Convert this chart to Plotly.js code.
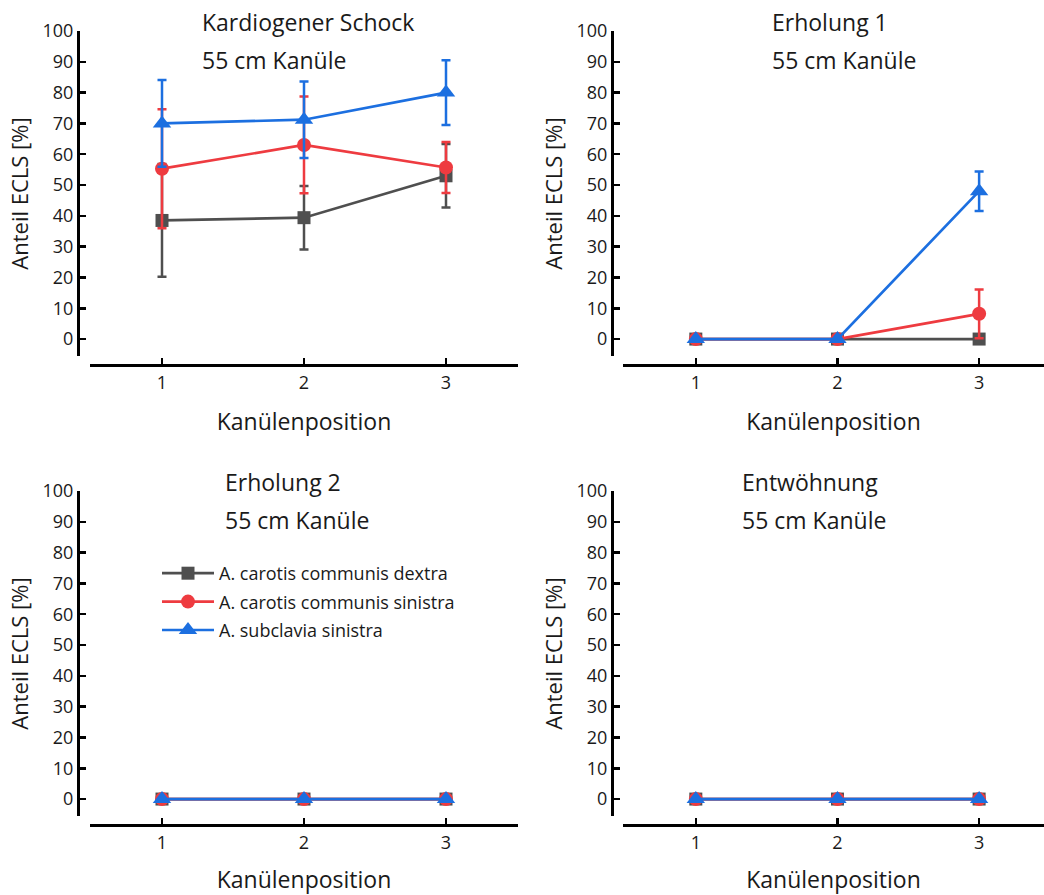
<!DOCTYPE html>
<html>
<head>
<meta charset="utf-8">
<script src="https://cdn.plot.ly/plotly-3.0.1.min.js"></script>
<style>html,body{margin:0;padding:0;background:#fff}#chart{width:1044px;height:895px}</style>
</head>
<body>
<div id="chart"></div>
<script>
const positions = [1, 2, 3];
const tickLabels = ['1', '2', '3'];
const seriesNames = ['A. carotis communis dextra', 'A. carotis communis sinistra', 'A. subclavia sinistra'];
const panelTitles = ['Kardiogener Schock', 'Erholung 1', 'Erholung 2', 'Entwöhnung'];
const subTitle = '55 cm Kanüle';

// Kardiogener Schock
const schockDextra = [38.5, 39.4, 53.0];
const schockDextraErr = [18.3, 10.3, 10.3];
const schockSinistra = [55.3, 63.0, 55.7];
const schockSinistraErr = [19.3, 15.7, 8.3];
const schockSubclavia = [70.0, 71.2, 80.0];
const schockSubclaviaErr = [14.1, 12.4, 10.5];
// Erholung 1
const erh1Dextra = [0, 0, 0];
const erh1DextraErr = [0, 0, 0];
const erh1Sinistra = [0, 0, 8.2];
const erh1SinistraErr = [0, 0, 7.9];
const erh1Subclavia = [0, 0, 48.0];
const erh1SubclaviaErr = [0, 0, 6.4];
// Erholung 2
const erh2Dextra = [0, 0, 0];
const erh2DextraErr = [0, 0, 0];
const erh2Sinistra = [0, 0, 0];
const erh2SinistraErr = [0, 0, 0];
const erh2Subclavia = [0, 0, 0];
const erh2SubclaviaErr = [0, 0, 0];
// Entwöhnung
const entwDextra = [0, 0, 0];
const entwDextraErr = [0, 0, 0];
const entwSinistra = [0, 0, 0];
const entwSinistraErr = [0, 0, 0];
const entwSubclavia = [0, 0, 0];
const entwSubclaviaErr = [0, 0, 0];

const panels = [
  [[schockDextra, schockDextraErr], [schockSinistra, schockSinistraErr], [schockSubclavia, schockSubclaviaErr]],
  [[erh1Dextra, erh1DextraErr], [erh1Sinistra, erh1SinistraErr], [erh1Subclavia, erh1SubclaviaErr]],
  [[erh2Dextra, erh2DextraErr], [erh2Sinistra, erh2SinistraErr], [erh2Subclavia, erh2SubclaviaErr]],
  [[entwDextra, entwDextraErr], [entwSinistra, entwSinistraErr], [entwSubclavia, entwSubclaviaErr]]
];

const colors = ['#4f4f4f', '#ee3b40', '#1c6fe0'];
const symbols = ['square', 'circle', 'triangle-up'];
const sizes = [13, 14, 16];
const FONT = '"Open Sans", "Noto Sans", sans-serif';

const W = 1044, H = 895;
const px = v => v / W;
const py = v => 1 - v / H;

// panel geometry in pixels
const geo = [
  {yAxisX: 78, xDom: [90, 518], xRange: [0.493, 3.507], yDom: [31, 356], xAxisY: 365, titleX: 200},
  {yAxisX: 612, xDom: [623, 1044], xRange: [0.486, 3.458], yDom: [31, 356], xAxisY: 365, titleX: 770},
  {yAxisX: 78, xDom: [90, 518], xRange: [0.493, 3.507], yDom: [491, 816], xAxisY: 825, titleX: 223},
  {yAxisX: 612, xDom: [623, 1044], xRange: [0.486, 3.458], yDom: [491, 816], xAxisY: 825, titleX: 740}
];

const traces = [];
const layout = {
  width: W, height: H,
  margin: {l: 0, r: 0, t: 0, b: 0},
  paper_bgcolor: '#ffffff', plot_bgcolor: 'rgba(0,0,0,0)',
  font: {family: FONT, color: '#1a1a1a'},
  showlegend: true,
  legend: {
    x: px(157), y: py(555), xanchor: 'left', yanchor: 'top',
    font: {size: 18, family: FONT, color: '#1a1a1a'},
    bgcolor: 'rgba(0,0,0,0)', tracegroupgap: 2, itemwidth: 52
  },
  annotations: []
};

panels.forEach((panel, i) => {
  const n = i === 0 ? '' : String(i + 1);
  const g = geo[i];
  panel.forEach((s, k) => {
    traces.push({
      type: 'scatter', mode: 'lines+markers',
      x: positions, y: s[0],
      name: seriesNames[k],
      legendgroup: seriesNames[k],
      showlegend: i === 0,
      xaxis: 'x' + n, yaxis: 'y' + n,
      line: {color: colors[k], width: 2.7},
      marker: {color: colors[k], symbol: symbols[k], size: sizes[k]},
      error_y: {type: 'data', array: s[1], visible: true, color: colors[k], thickness: 2.5, width: 4.5},
      cliponaxis: false
    });
  });
  layout['xaxis' + n] = {
    domain: [px(g.xDom[0]), px(g.xDom[1])],
    range: g.xRange,
    anchor: 'free', position: py(g.xAxisY),
    showgrid: false, zeroline: false,
    showline: true, linecolor: '#000', linewidth: 3,
    ticks: 'inside', ticklen: 6, tickwidth: 2.5, tickcolor: '#000',
    tickmode: 'array', tickvals: positions, ticktext: tickLabels,
    tickfont: {size: 18, family: FONT, color: '#1a1a1a'},
    title: {text: 'Kanülenposition', font: {size: 23, family: FONT, color: '#1a1a1a'}, standoff: 21}
  };
  layout['yaxis' + n] = {
    domain: [py(g.yDom[1]), py(g.yDom[0])],
    range: [-5.5, 100],
    anchor: 'free', position: px(g.yAxisX),
    showgrid: false, zeroline: false,
    showline: true, linecolor: '#000', linewidth: 3,
    ticks: 'inside', ticklen: 6, tickwidth: 2.5, tickcolor: '#000',
    tickmode: 'linear', tick0: 0, dtick: 10,
    tickfont: {size: 18, family: FONT, color: '#1a1a1a'},
    title: {text: 'Anteil ECLS [%]', font: {size: 22, family: FONT, color: '#1a1a1a'}, standoff: 6}
  };
  const topY = g.yDom[0] - 31 + 22;
  layout.annotations.push({
    xref: 'paper', yref: 'paper', x: px(g.titleX), y: py(topY),
    xanchor: 'left', yanchor: 'middle', showarrow: false,
    text: panelTitles[i], font: {size: 23, family: FONT, color: '#1a1a1a'}
  });
  layout.annotations.push({
    xref: 'paper', yref: 'paper', x: px(g.titleX), y: py(topY + 38),
    xanchor: 'left', yanchor: 'middle', showarrow: false,
    text: subTitle, font: {size: 23, family: FONT, color: '#1a1a1a'}
  });
});

Plotly.newPlot('chart', traces, layout, {staticPlot: true, displayModeBar: false});
</script>
</body>
</html>
